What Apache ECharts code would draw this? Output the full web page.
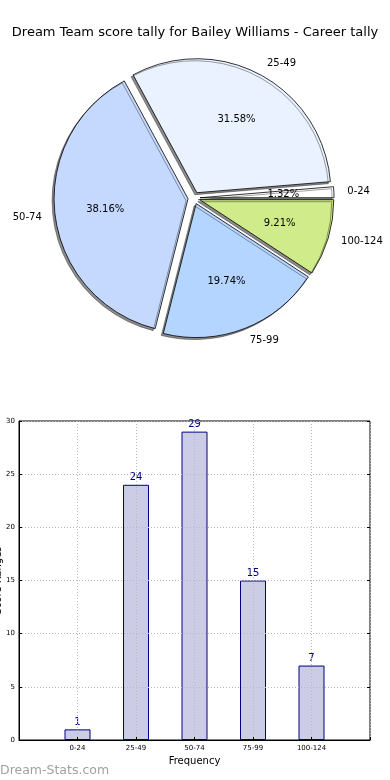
<!DOCTYPE html>
<html>
<head>
<meta charset="utf-8">
<script src="https://cdn.jsdelivr.net/npm/echarts@6/dist/echarts.min.js"></script>
<style>
html,body{margin:0;padding:0;background:#fff;}
#c{width:390px;height:780px;}
</style>
</head>
<body>
<div id="c"></div>
<script>
const titleText = 'Dream Team score tally for Bailey Williams - Career tally';
const categories = ['0-24', '25-49', '50-74', '75-99', '100-124'];
const tallies = [1, 24, 29, 15, 7];
const sliceColors = ['#ffffff', '#eaf2ff', '#c5d9ff', '#b4d5ff', '#cfeb8a'];
const yTicks = [0, 5, 10, 15, 20, 25, 30];
const xTickPositions = [1, 2, 3, 4, 5];

const FONT = 'DejaVu Sans';
const R = 134;
const CX = 194, CY = 198;
const total = tallies.reduce((a, b) => a + b, 0);

const pieData = categories.map((c, i) => ({
  name: c, value: tallies[i], selected: true,
  itemStyle: { color: sliceColors[i] }
}));
const pctData = categories.map((c, i) => ({ name: c, value: tallies[i], selected: true }));
const barData = tallies.map((v, i) => [xTickPositions[i], v]);

const chart = echarts.init(document.getElementById('c'), null, { renderer: 'canvas' });
chart.setOption({
  animation: false,
  backgroundColor: '#fff',
  title: {
    text: titleText, left: 'center', top: 21,
    textStyle: { fontFamily: FONT, fontSize: 13, fontWeight: 'normal', color: '#000' }
  },
  graphic: [{
    type: 'text', left: 0, top: 764,
    style: { text: 'Dream-Stats.com', font: '12.5px "DejaVu Sans"', fill: '#a0a0a0' }
  }],
  grid: {
    left: 19, right: 20, top: 421, bottom: 40,
    outerBoundsMode: 'none', containLabel: false,
    show: true, borderColor: '#000', borderWidth: 1, backgroundColor: 'transparent'
  },
  xAxis: {
    type: 'value', min: 0, max: 6, interval: 1, z: 5,
    name: 'Frequency', nameLocation: 'middle', nameGap: 16, nameMoveOverlap: false,
    nameTextStyle: { fontFamily: FONT, fontSize: 10, color: '#000' },
    axisLine: { show: true, lineStyle: { color: '#000', width: 1 } },
    axisTick: { show: true, inside: true, length: 3, lineStyle: { color: '#000' } },
    axisLabel: {
      fontFamily: FONT, fontSize: 7, color: '#000', margin: 5,
      formatter: v => { const k = xTickPositions.indexOf(v); return k >= 0 ? categories[k] : ''; }
    },
    splitLine: { show: true, lineStyle: { color: '#b8b8b8', type: [1, 2], width: 1 } }
  },
  yAxis: [{
    type: 'value', min: 0, max: 30, interval: 5, z: 5,
    name: 'Score Ranges', nameLocation: 'middle', nameGap: 16, nameMoveOverlap: false,
    nameTextStyle: { fontFamily: FONT, fontSize: 10, color: '#000' },
    axisLine: { show: true, lineStyle: { color: '#000', width: 1 } },
    axisTick: { show: true, inside: true, length: 3, lineStyle: { color: '#000' } },
    axisLabel: {
      fontFamily: FONT, fontSize: 7, color: '#000', margin: 4,
      formatter: v => yTicks.indexOf(v) >= 0 ? String(v) : ''
    },
    splitLine: { show: true, lineStyle: { color: '#b8b8b8', type: [1, 2], width: 1 } }
  }, {
    type: 'value', min: 0, max: 30, interval: 5, position: 'right', z: 5,
    axisLine: { show: false },
    axisTick: { show: true, inside: true, length: 3, lineStyle: { color: '#000' } },
    axisLabel: { show: false },
    splitLine: { show: false }
  }],
  series: [{
    type: 'bar', data: barData, barWidth: 26, xAxisIndex: 0, yAxisIndex: 0, z: 2,
    itemStyle: { color: 'rgba(0,0,128,0.2)', borderColor: '#000080', borderWidth: 1 },
    label: {
      show: true, position: 'top', distance: 2,
      fontFamily: FONT, fontSize: 10, color: '#000080'
    }
  }, {
    type: 'pie', center: [CX, CY], radius: [0, R],
    startAngle: 0, clockwise: false, avoidLabelOverlap: false,
    selectedMode: 'multiple', selectedOffset: 6, silent: true,
    data: pieData,
    itemStyle: {
      borderColor: '#000', borderWidth: 0.8,
      shadowColor: 'rgba(0,0,0,0.45)', shadowBlur: 0, shadowOffsetX: -2, shadowOffsetY: 2
    },
    label: {
      show: true, position: 'outside', formatter: '{b}',
      fontFamily: FONT, fontSize: 10, color: '#000', distanceToLabelLine: 0
    },
    labelLine: { show: false, length: R * 0.1, length2: 0 },
    emphasis: { disabled: true }
  }, {
    type: 'pie', center: [CX, CY], radius: [R * 0.2, R],
    startAngle: 0, clockwise: false, avoidLabelOverlap: false,
    selectedMode: 'multiple', selectedOffset: 6, silent: true,
    data: pctData, z: 3,
    itemStyle: { color: 'rgba(0,0,0,0)', borderWidth: 0 },
    label: {
      show: true, position: 'inside',
      formatter: p => (p.value / total * 100).toFixed(2) + '%',
      fontFamily: FONT, fontSize: 10, color: '#000'
    },
    labelLine: { show: false },
    emphasis: { disabled: true }
  }]
});
</script>
</body>
</html>
